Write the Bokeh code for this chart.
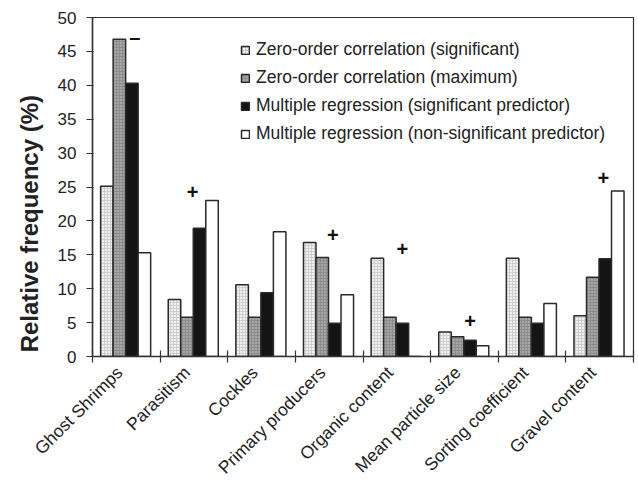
import math
from bokeh.plotting import figure
from bokeh.models import ColumnDataSource, FixedTicker, Legend, LegendItem, Range1d
from bokeh.core.properties import value
from bokeh.embed import file_html
from bokeh.resources import INLINE

categories = ["Ghost Shrimps", "Parasitism", "Cockles", "Primary producers",
              "Organic content", "Mean particle size", "Sorting coefficient", "Gravel content"]
zero_sig = [25.1, 8.4, 10.6, 16.8, 14.5, 3.6, 14.5, 6.0]
zero_max = [46.8, 5.8, 5.8, 14.6, 5.8, 2.9, 5.8, 11.7]
mult_sig = [40.3, 18.9, 9.4, 4.9, 4.9, 2.4, 4.9, 14.4]
mult_nonsig = [15.3, 23.0, 18.4, 9.1, 0.0, 1.6, 7.8, 24.4]
series_names = ["Zero-order correlation (significant)",
                "Zero-order correlation (maximum)",
                "Multiple regression (significant predictor)",
                "Multiple regression (non-significant predictor)"]
# significance marks: category, symbol, height (%)
mark_cats = ["Ghost Shrimps", "Parasitism", "Primary producers", "Organic content",
             "Mean particle size", "Gravel content"]
mark_syms = ["\u2013", "+", "+", "+", "+", "+"]
mark_y = [47.1, 24.3, 17.9, 15.9, 5.3, 26.3]
y_ticks = [0, 5, 10, 15, 20, 25, 30, 35, 40, 45, 50]

FONT = "Liberation Sans"
n = len(categories)
bw = 0.185
start = 0.12

p = figure(width=638, height=488, output_backend="svg", toolbar_location=None,
           x_range=Range1d(0, n), y_range=Range1d(0, 50),
           min_border_left=92, min_border_right=5, min_border_top=17, min_border_bottom=132)
p.grid.visible = False
p.outline_line_color = "#333333"
p.outline_line_width = 1.2
p.background_fill_color = "white"
p.border_fill_color = "white"

styles = [
    dict(fill_color="#f0f0f0", hatch_pattern="+", hatch_color="#c8c8c8", hatch_scale=3, hatch_weight=0.8),
    dict(fill_color="#a6a6a6", hatch_pattern="+", hatch_color="#888888", hatch_scale=3, hatch_weight=0.8),
    dict(fill_color="#141414"),
    dict(fill_color="white"),
]
series = [zero_sig, zero_max, mult_sig, mult_nonsig]
renderers = []
for j, (vals, st) in enumerate(zip(series, styles)):
    xs = [i + start + bw * (j + 0.5) for i in range(n)]
    src = ColumnDataSource(dict(x=xs, top=vals))
    r = p.vbar(x="x", top="top", width=bw, bottom=0, source=src,
               line_color="#2a2a2a", line_width=1.5, **st)
    renderers.append(r)

mx = [categories.index(c) + start + bw * 2.5 for c in mark_cats]
p.text(x=mx, y=mark_y, text=mark_syms, text_align="center", text_baseline="middle",
       text_font=value(FONT), text_font_size="20px", text_font_style="bold",
       text_color="#111111", x_offset=[3, -7, -2, 0, 0, -2])

legend = Legend(items=[LegendItem(label=nm, renderers=[r]) for nm, r in zip(series_names, renderers)],
                location=(148, 212), border_line_color=None, background_fill_alpha=0,
                glyph_width=10, glyph_height=10, label_standoff=6, spacing=7, label_height=21,
                padding=10, label_text_font=FONT, label_text_font_size="17.5px", label_text_color="#222222")
p.add_layout(legend)

# y axis
p.yaxis.ticker = FixedTicker(ticks=y_ticks)
p.yaxis.axis_label = "Relative frequency (%)" + "\u00a0" * 11
p.yaxis.axis_label_text_font = FONT
p.yaxis.axis_label_text_font_style = "bold"
p.yaxis.axis_label_text_font_size = "24px"
p.yaxis.axis_label_text_color = "#222222"
p.yaxis.major_label_text_font = FONT
p.yaxis.major_label_text_font_size = "17px"
p.yaxis.major_label_text_color = "#222222"
p.yaxis.axis_line_color = "#333333"
p.yaxis.axis_line_width = 1.5
p.yaxis.major_tick_line_color = "#333333"
p.yaxis.major_tick_out = 6
p.yaxis.major_tick_in = 1
p.yaxis.minor_tick_line_color = None
p.yaxis.major_label_standoff = 10
p.yaxis.axis_label_standoff = 12

# x axis: labels near category centres, tick marks at boundaries
label_pos = [i + 0.40 for i in range(n)]
p.xaxis.ticker = FixedTicker(ticks=label_pos, minor_ticks=list(range(n + 1)))
p.xaxis.major_label_overrides = {c: lab for c, lab in zip(label_pos, categories)}
p.xaxis.major_label_orientation = math.pi / 4
p.xaxis.major_label_text_font = FONT
p.xaxis.major_label_text_font_size = "17.5px"
p.xaxis.major_label_text_color = "#222222"
p.xaxis.major_tick_line_color = None
p.xaxis.minor_tick_line_color = "#333333"
p.xaxis.minor_tick_line_width = 1.2
p.xaxis.minor_tick_in = 6
p.xaxis.minor_tick_out = 6
p.xaxis.axis_line_color = "#333333"
p.xaxis.axis_line_width = 1.5
p.xaxis.major_label_standoff = 7

open("out.html", "w").write(file_html(p, INLINE))
